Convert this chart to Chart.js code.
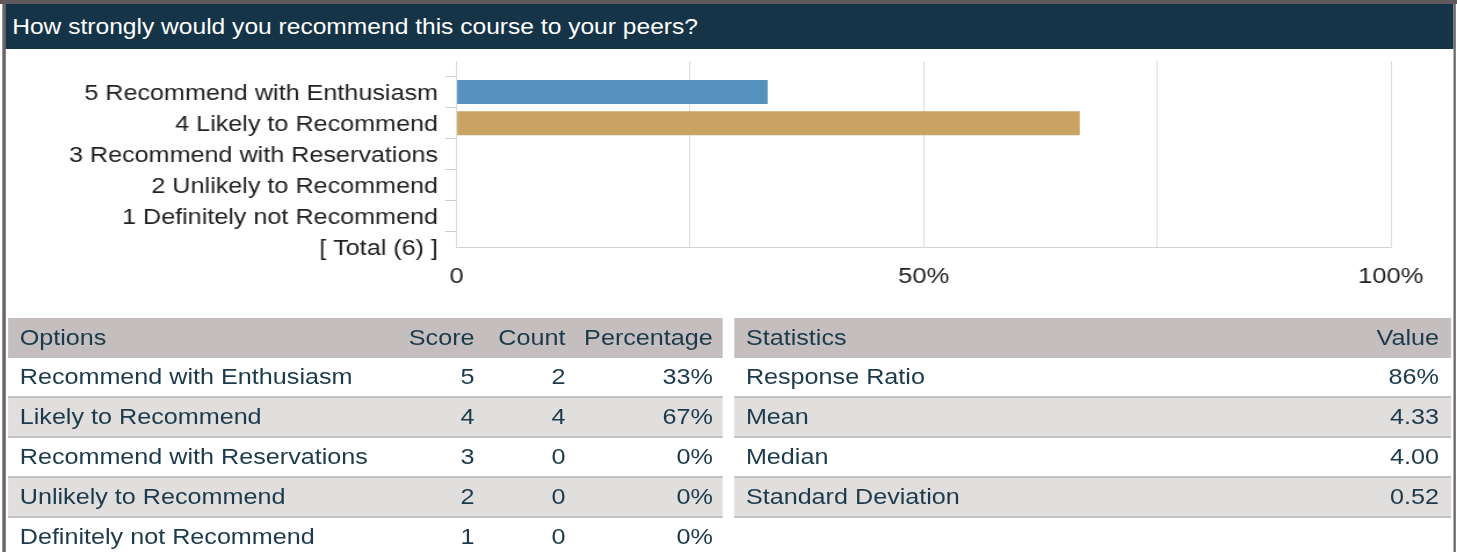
<!DOCTYPE html>
<html>
<head>
<meta charset="utf-8">
<script src="https://cdn.jsdelivr.net/npm/chart.js@4/dist/chart.umd.min.js"></script>
<style>
  html, body { margin: 0; padding: 0; background: #fff; overflow: hidden; }
  /* the reference is drawn a bit wider than plain Arial, so the whole page is stretched sideways */
  #page { position: absolute; left: 0; top: 0; width: 1256px; height: 552px;
          transform: scaleX(1.16); transform-origin: 0 0;
          font-family: 'Liberation Sans', Arial, sans-serif; }
  #topline { position: absolute; left: 0; top: 0; width: 1256px; height: 4px; background: #5e5a5b; }
  #lborder { position: absolute; left: 2px; top: 4px; width: 2.5px; height: 548px; background: #6b6668; }
  #rborder { position: absolute; left: 1252.5px; top: 4px; width: 2.5px; height: 548px; background: #6b6668; }
  #title { position: absolute; left: 3.5px; top: 4px; width: 1249px; height: 45px; box-sizing: border-box;
           padding-left: 7px; background: #163447; color: #fff; font-size: 21.2px; line-height: 45px; white-space: nowrap; }
  #chartBox { position: absolute; left: 4.5px; top: 50px; width: 1248px; height: 260px; }
  .tbl { position: absolute; top: 318px; font-size: 21.7px; color: #1c3a4b; }
  .row { display: flex; height: 38px; line-height: 38px; border-bottom: 2px solid #c4c1c1; white-space: nowrap; }
  .row.head { height: 40px; line-height: 40px; border-bottom: none; background: #c4bebe; }
  .row.alt { background: #e0dfde; }
  .cell { box-sizing: border-box; overflow: hidden; }
  .l { text-align: left; padding-left: 10px; }
  .r { text-align: right; padding-right: 8px; }
</style>
</head>
<body>
<div id="page">
  <div id="topline"></div>
  <div id="title">How strongly would you recommend this course to your peers?</div>
  <div id="chartBox"><canvas id="chart" width="1248" height="260"></canvas></div>
  <div class="tbl" id="optTable" style="left:7px;width:615.5px;"></div>
  <div class="tbl" id="statTable" style="left:633px;width:618px;"></div>
  <div id="lborder"></div>
  <div id="rborder"></div>
</div>
<script>
// chart data
const categories = ['', '5 Recommend with Enthusiasm', '4 Likely to Recommend', '3 Recommend with Reservations',
  '2 Unlikely to Recommend', '1 Definitely not Recommend', '[ Total (6) ]'];
const percentValues = [null, 33.3, 66.7, 0, 0, 0, null];
const barColors = ['#5592bf', '#5592bf', '#c8a364', '#c8a364', '#c8a364', '#c8a364', '#c8a364'];

// table data
const optionNames = ['Recommend with Enthusiasm', 'Likely to Recommend', 'Recommend with Reservations',
  'Unlikely to Recommend', 'Definitely not Recommend'];
const scores = [5, 4, 3, 2, 1];
const counts = [2, 4, 0, 0, 0];
const percentLabels = ['33%', '67%', '0%', '0%', '0%'];
const statNames = ['Response Ratio', 'Mean', 'Median', 'Standard Deviation'];
const statValues = ['86%', '4.33', '4.00', '0.52'];

const FONT = "'Liberation Sans', Arial, sans-serif";

function makeRow(cells, cls) {
  const row = document.createElement('div');
  row.className = 'row' + (cls ? ' ' + cls : '');
  cells.forEach(c => {
    const d = document.createElement('div');
    d.className = 'cell ' + c.align;
    d.style.width = c.w + 'px';
    d.textContent = c.text;
    row.appendChild(d);
  });
  return row;
}

// === OPTIONS TABLE ===
const optTable = document.getElementById('optTable');
const optWidths = [323.5, 86.6, 78.4, 127];
optTable.appendChild(makeRow([
  { text: 'Options', w: optWidths[0], align: 'l' },
  { text: 'Score', w: optWidths[1], align: 'r' },
  { text: 'Count', w: optWidths[2], align: 'r' },
  { text: 'Percentage', w: optWidths[3], align: 'r' }
], 'head'));
optionNames.forEach((name, i) => {
  optTable.appendChild(makeRow([
    { text: name, w: optWidths[0], align: 'l' },
    { text: scores[i], w: optWidths[1], align: 'r' },
    { text: counts[i], w: optWidths[2], align: 'r' },
    { text: percentLabels[i], w: optWidths[3], align: 'r' }
  ], i % 2 === 1 ? 'alt' : ''));
});

// === STATISTICS TABLE ===
const statTable = document.getElementById('statTable');
statTable.appendChild(makeRow([
  { text: 'Statistics', w: 400, align: 'l' },
  { text: 'Value', w: 218, align: 'r' }
], 'head'));
statNames.forEach((name, i) => {
  const row = makeRow([
    { text: name, w: 400, align: 'l' },
    { text: statValues[i], w: 218, align: 'r' }
  ], i % 2 === 1 ? 'alt' : '');
  row.lastChild.style.paddingRight = '10.5px';
  statTable.appendChild(row);
});
statTable.firstChild.lastChild.style.paddingRight = '10.5px';

// === BAR CHART ===
const ctx = document.getElementById('chart').getContext('2d');
new Chart(ctx, {
  type: 'bar',
  data: {
    labels: categories,
    datasets: [{
      data: percentValues,
      backgroundColor: barColors,
      borderWidth: 0,
      inflateAmount: 0,
      barThickness: 24
    }]
  },
  options: {
    indexAxis: 'y',
    responsive: false,
    animation: false,
    layout: { padding: { top: 11, right: 54, left: 0, bottom: 0 } },
    plugins: { legend: { display: false }, tooltip: { enabled: false } },
    scales: {
      x: {
        min: 0,
        max: 100,
        position: 'bottom',
        grid: { color: '#dcdcdc', drawTicks: false },
        border: { color: '#d4d4d4' },
        ticks: {
          stepSize: 25,
          autoSkip: false,
          maxRotation: 0,
          padding: 16,
          color: '#222',
          font: { size: 22, family: FONT },
          callback: v => v === 0 ? '0' : (v % 50 === 0 ? v + '%' : '')
        },
        afterFit: s => { s.height = 62.5; }
      },
      y: {
        type: 'category',
        offset: false,
        grid: {
          drawOnChartArea: false,
          drawTicks: true,
          tickLength: 10,
          tickColor: c => c.index === 0 ? 'rgba(0,0,0,0)' : '#cfcfcf'
        },
        border: { display: false },
        ticks: {
          autoSkip: false,
          padding: 6,
          labelOffset: 2,
          color: '#222',
          font: { size: 21.7, family: FONT }
        },
        afterFit: s => {
          s.width = 388.6;
          // let the layout padding alone decide the top of the plot
          s.paddingTop = 0;
          s.paddingBottom = 0;
        }
      }
    }
  }
});
</script>
</body>
</html>
